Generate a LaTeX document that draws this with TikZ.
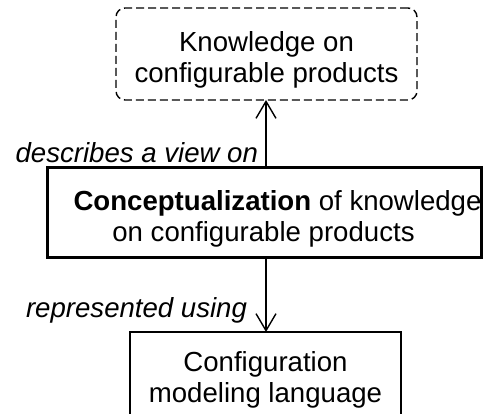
\documentclass[tikz,border=0pt]{standalone}
\usepackage{fontspec}
\setmainfont{Liberation Sans}
\usetikzlibrary{arrows.meta}
% invisible struts that fix the top and bottom of a multi-line text
\newcommand\topstrut[1]{\rule{0pt}{#1}}
\newcommand\botstrut[1]{\rule[-#1]{0pt}{#1}}
\begin{document}
\begin{tikzpicture}[x=1pt,y=-1pt,
  every node/.style={inner sep=0pt, outer sep=0pt},
  txt/.style={font=\fontsize{27.6}{31}\selectfont, align=center},
  dashbox/.style={txt, draw, line width=1.4pt, dash pattern=on 8pt off 4pt, rounded corners=9pt},
  thickbox/.style={txt, draw, line width=3pt},
  plainbox/.style={txt, draw, line width=1.4pt},
  rel/.style={font=\fontsize{27.6}{31}\selectfont\itshape, anchor=base east},
  arr/.style={line width=1.4pt, -{Straight Barb[length=17pt, width=20pt, line width=1.4pt]}}]
  \fill[white] (0,0) rectangle (483,414);
  \useasboundingbox (0,0) rectangle (483,414);
  \clip (0,0) rectangle (483,414);

  % the three boxes
  \node[dashbox, minimum width=301pt, minimum height=92pt] (know) at (266.5,54)
    {\topstrut{33pt}Knowledge on\\configurable products\botstrut{6pt}};
  \node[thickbox, minimum width=431pt, minimum height=90pt] (concept) at (264.5,213)
    {\fontsize{27.6}{32}\selectfont\topstrut{32pt}\hspace*{26pt}\textbf{Conceptualization} of knowledge\\on configurable products\hspace*{2pt}\botstrut{6pt}};
  \node[plainbox, minimum width=271pt, minimum height=90pt] (lang) at (265.5,377)
    {\topstrut{27pt}Configuration\\modeling language\botstrut{6pt}};

  % vertical line shared by both connectors
  \coordinate (axis) at (266,0);

  \draw[arr] (concept.north -| axis) -- (know.south -| axis);
  \draw[arr] (concept.south -| axis) -- (lang.north -| axis);

  % relation labels
  \node[rel] (lblview) at (258,163) {describes a view on};
  \node[rel] (lblrep) at (247,318) {represented using};
\end{tikzpicture}
\end{document}
